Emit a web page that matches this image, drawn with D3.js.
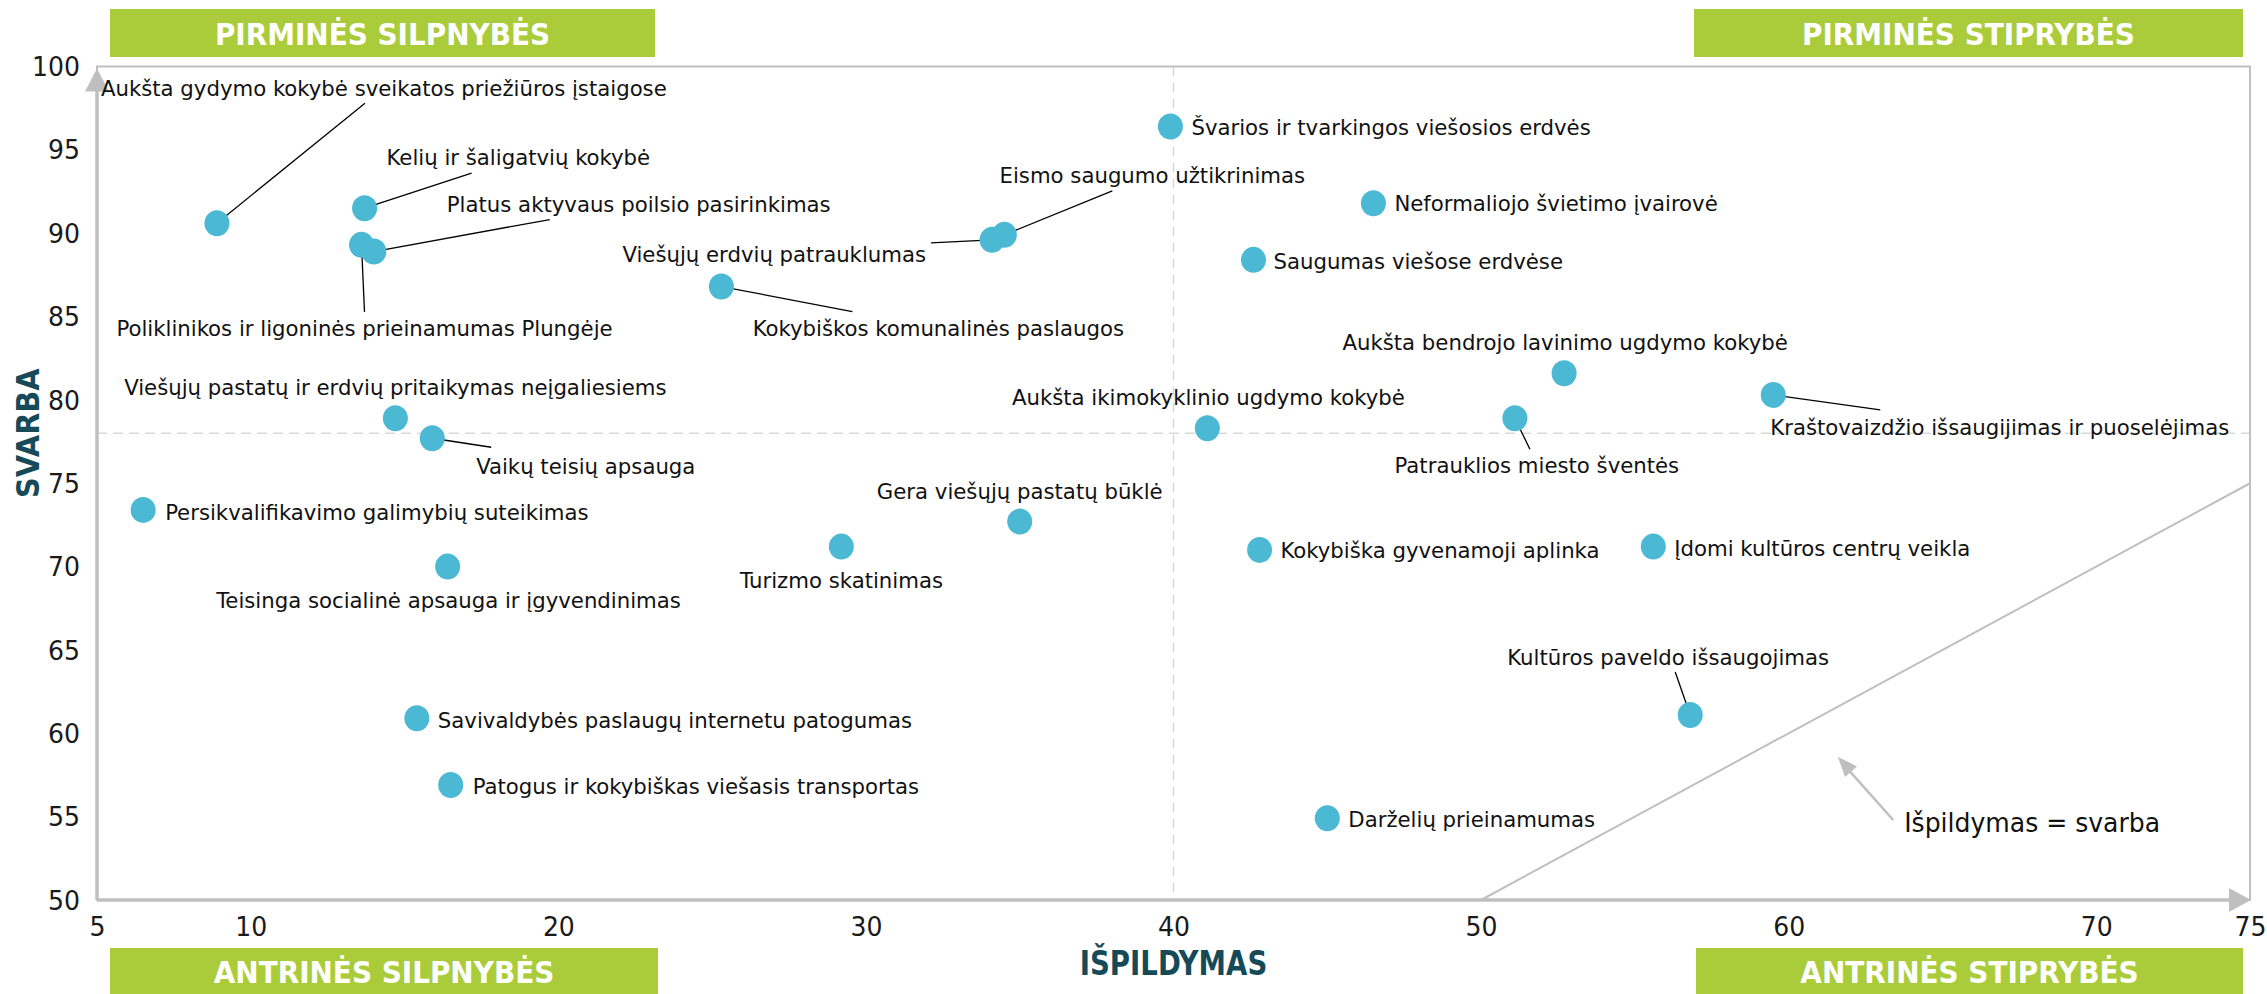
<!DOCTYPE html>
<html>
<head>
<meta charset="utf-8">
<script src="https://cdn.jsdelivr.net/npm/d3@7"></script>
<style>
  body { margin: 0; background: #fff; }
  svg text { font-family: 'Liberation Sans Narrow', 'Arial Narrow', 'DejaVu Sans Condensed', 'Noto Sans', sans-serif; }
</style>
</head>
<body>
<div id="app"></div>
<script>
const WIDTH = 2267;
const HEIGHT = 994;

// chart data
const names = [
  'Aukšta gydymo kokybė sveikatos priežiūros įstaigose',
  'Kelių ir šaligatvių kokybė',
  'Platus aktyvaus poilsio pasirinkimas',
  'Poliklinikos ir ligoninės prieinamumas Plungėje',
  'Viešųjų erdvių patrauklumas',
  'Eismo saugumo užtikrinimas',
  'Kokybiškos komunalinės paslaugos',
  'Švarios ir tvarkingos viešosios erdvės',
  'Neformaliojo švietimo įvairovė',
  'Saugumas viešose erdvėse',
  'Aukšta bendrojo lavinimo ugdymo kokybė',
  'Kraštovaizdžio išsaugijimas ir puoselėjimas',
  'Patrauklios miesto šventės',
  'Aukšta ikimokyklinio ugdymo kokybė',
  'Viešųjų pastatų ir erdvių pritaikymas neįgaliesiems',
  'Vaikų teisių apsauga',
  'Persikvalifikavimo galimybių suteikimas',
  'Teisinga socialinė apsauga ir įgyvendinimas',
  'Turizmo skatinimas',
  'Gera viešųjų pastatų būklė',
  'Kokybiška gyvenamoji aplinka',
  'Įdomi kultūros centrų veikla',
  'Kultūros paveldo išsaugojimas',
  'Savivaldybės paslaugų internetu patogumas',
  'Patogus ir kokybiškas viešasis transportas',
  'Darželių prieinamumas'
];
const ispildymas = [8.9, 13.7, 14.0, 13.6, 34.1, 34.5, 25.3, 39.9, 46.5, 42.6, 52.7, 59.5, 51.1, 41.1,
  14.7, 15.9, 6.5, 16.4, 29.2, 35.0, 42.8, 55.6, 56.8, 15.4, 16.5, 45.0];
const svarba = [90.6, 91.5, 88.9, 89.3, 89.6, 89.9, 86.8, 96.4, 91.8, 88.4, 81.6, 80.3, 78.9, 78.3,
  78.9, 77.7, 73.4, 70.0, 71.2, 72.7, 71.0, 71.2, 61.1, 60.9, 56.9, 54.9];

const xTicks = [5, 10, 20, 30, 40, 50, 60, 70, 75];
const yTicks = [50, 55, 60, 65, 70, 75, 80, 85, 90, 95, 100];
const quadrants = ['PIRMINĖS SILPNYBĖS', 'PIRMINĖS STIPRYBĖS', 'ANTRINĖS SILPNYBĖS', 'ANTRINĖS STIPRYBĖS'];
const averages = [40, 78]; // išpildymo ir svarbos vidurkiai
const equalityNote = 'Išpildymas = svarba';

// label placement (pixels from the dot): anchor, dx, dy, leader end
const labelLayout = [
  ['start', -116, -135, 148, -120],
  ['start', 22, -51, 107, -35],
  ['start', 73, -47, 176, -32],
  ['middle', 3, 83, 3, 67],
  ['end', -66, 14, -61, 3],
  ['middle', 148, -60, 108, -44],
  ['middle', 217, 42, 131, 25],
  ['start', 21, 1],
  ['start', 21, 0],
  ['start', 20, 1],
  ['middle', 1, -31],
  ['start', -3, 32, 107, 15],
  ['middle', 22, 47, 15, 31],
  ['middle', 1, -31],
  ['middle', 0, -31],
  ['start', 44, 28, 59, 9],
  ['start', 22, 2],
  ['middle', 1, 34],
  ['middle', 0, 34],
  ['middle', 0, -30],
  ['start', 21, 0],
  ['start', 21, 2],
  ['middle', -22, -58, -15, -43],
  ['start', 21, 2],
  ['start', 22, 1],
  ['start', 21, 1]
];

const GREEN = '#abcc3a';
const DOT = '#4bb8d4';
const AXIS = '#bfbfbf';
const TEAL = '#174a59';

const svg = d3.select('#app')
  .append('svg')
    .attr('width', WIDTH)
    .attr('height', HEIGHT);

const x = d3.scaleLinear().domain([5, 75]).range([97, 2250]);
const y = d3.scaleLinear().domain([50, 100]).range([900, 66.5]);

const points = names.map((n, i) => ({ name: n, x: ispildymas[i], y: svarba[i], lay: labelLayout[i] }));

// narrow the text a bit so that it has the tall look of the original
const probe = svg.append('text').attr('font-size', 22).text(names[0]);
const SX = Math.max(0.75, Math.min(1.1, 566 / probe.node().getComputedTextLength()));
probe.remove();

// average lines
svg.append('line')
  .attr('x1', x(averages[0])).attr('x2', x(averages[0]))
  .attr('y1', y(100)).attr('y2', y(50))
  .attr('stroke', '#d9d9d9').attr('stroke-width', 1.5).attr('stroke-dasharray', '10,6');
svg.append('line')
  .attr('x1', x(5)).attr('x2', x(75))
  .attr('y1', y(averages[1])).attr('y2', y(averages[1]))
  .attr('stroke', '#d9d9d9').attr('stroke-width', 1.5).attr('stroke-dasharray', '10,6');

// išpildymas = svarba
svg.append('line')
  .attr('x1', x(50)).attr('y1', y(50))
  .attr('x2', x(75)).attr('y2', y(75))
  .attr('stroke', AXIS).attr('stroke-width', 2);

// frame
svg.append('rect')
  .attr('x', x(5)).attr('y', y(100))
  .attr('width', x(75) - x(5)).attr('height', y(50) - y(100))
  .attr('fill', 'none').attr('stroke', AXIS).attr('stroke-width', 2);
svg.append('line')
  .attr('x1', x(5)).attr('x2', x(75) - 10).attr('y1', y(50)).attr('y2', y(50))
  .attr('stroke', AXIS).attr('stroke-width', 3.5);
svg.append('line')
  .attr('x1', x(5)).attr('x2', x(5)).attr('y1', y(50)).attr('y2', y(100) + 10)
  .attr('stroke', AXIS).attr('stroke-width', 3.5);
svg.append('path')
  .attr('d', `M${x(5)},${y(100) + 2} L${x(5) - 12},${y(100) + 25} L${x(5) + 12},${y(100) + 25} Z`)
  .attr('fill', AXIS);
svg.append('path')
  .attr('d', `M${x(75) + 1},${y(50)} L${x(75) - 21},${y(50) - 12} L${x(75) - 21},${y(50) + 12} Z`)
  .attr('fill', AXIS);

// axes
const xAxis = svg.append('g')
  .attr('transform', `translate(0, ${y(50)})`)
  .call(d3.axisBottom(x).tickValues(xTicks).tickSize(0).tickFormat(d => d));
const yAxis = svg.append('g')
  .attr('transform', `translate(${x(5)}, 0)`)
  .call(d3.axisLeft(y).tickValues(yTicks).tickSize(0).tickFormat(d => d));
[xAxis, yAxis].forEach(g => {
  g.select('.domain').remove();
  g.selectAll('text')
    .attr('font-family', null)
    .attr('font-size', 26)
    .attr('fill', '#1a1a1a');
});
xAxis.selectAll('text').attr('y', 27).attr('dy', '0.35em').attr('transform', `scale(${SX},1)`);
yAxis.selectAll('text').attr('x', -17 / SX).attr('dy', '0.35em').attr('transform', `scale(${SX},1)`);

// leader lines
svg.selectAll('.leader')
  .data(points.filter(d => d.lay.length > 3))
  .enter()
    .append('line')
    .attr('class', 'leader')
    .attr('x1', d => x(d.x)).attr('y1', d => y(d.y))
    .attr('x2', d => x(d.x) + d.lay[3]).attr('y2', d => y(d.y) + d.lay[4])
    .attr('stroke', '#000').attr('stroke-width', 1.3);

// dots
svg.selectAll('.dot')
  .data(points)
  .enter()
    .append('ellipse')
    .attr('class', 'dot')
    .attr('cx', d => x(d.x))
    .attr('cy', d => y(d.y))
    .attr('rx', 12.5).attr('ry', 13)
    .attr('fill', DOT);

// labels
svg.selectAll('.lbl')
  .data(points)
  .enter()
    .append('text')
    .attr('class', 'lbl')
    .attr('transform', d => `translate(${x(d.x) + d.lay[1]}, ${y(d.y) + d.lay[2]}) scale(${SX},1)`)
    .attr('text-anchor', d => d.lay[0])
    .attr('dominant-baseline', 'central')
    .attr('font-size', 22)
    .attr('fill', '#111')
    .text(d => d.name);

// annotation
const noteTail = [x(63.4), y(54.8)];
const noteHead = [x(61.6), y(58.6)];
svg.append('line')
  .attr('x1', noteTail[0]).attr('y1', noteTail[1])
  .attr('x2', noteHead[0] + 6).attr('y2', noteHead[1] + 8)
  .attr('stroke', AXIS).attr('stroke-width', 2.5);
const ang = Math.atan2(noteHead[1] - noteTail[1], noteHead[0] - noteTail[0]);
const hl = 20, hw = 8;
const bx = noteHead[0] - hl * Math.cos(ang), by = noteHead[1] - hl * Math.sin(ang);
svg.append('path')
  .attr('d', `M${noteHead[0]},${noteHead[1]} L${bx + hw * Math.sin(ang)},${by - hw * Math.cos(ang)} L${bx - hw * Math.sin(ang)},${by + hw * Math.cos(ang)} Z`)
  .attr('fill', AXIS);
svg.append('text')
  .attr('transform', `translate(${noteTail[0] + 11}, ${noteTail[1] + 3}) scale(${SX},1)`)
  .attr('dominant-baseline', 'central')
  .attr('font-size', 26)
  .attr('fill', '#111')
  .text(equalityNote);

// axis titles
svg.append('text')
  .attr('transform', `translate(${x(averages[0])}, 964) scale(0.93,1)`)
  .attr('text-anchor', 'middle')
  .attr('dominant-baseline', 'central')
  .attr('font-size', 33)
  .attr('font-weight', 'bold')
  .attr('fill', TEAL)
  .text('IŠPILDYMAS');
svg.append('text')
  .attr('transform', `translate(28, ${y(averages[1])}) rotate(-90)`)
  .attr('text-anchor', 'middle')
  .attr('dominant-baseline', 'central')
  .attr('font-size', 32)
  .attr('font-weight', 'bold')
  .attr('fill', TEAL)
  .text('SVARBA');

// quadrant banners
const banners = [
  { x0: 110, x1: 655, y0: 9, y1: 57 },
  { x0: 1694, x1: 2243, y0: 9, y1: 57 },
  { x0: 110, x1: 658, y0: 948, y1: 996 },
  { x0: 1696, x1: 2243, y0: 948, y1: 996 }
];
const bg = svg.selectAll('.banner')
  .data(quadrants)
  .enter()
    .append('g')
    .attr('class', 'banner');
bg.append('rect')
  .attr('x', (d, i) => banners[i].x0)
  .attr('y', (d, i) => banners[i].y0)
  .attr('width', (d, i) => banners[i].x1 - banners[i].x0)
  .attr('height', (d, i) => banners[i].y1 - banners[i].y0)
  .attr('fill', GREEN);
bg.append('text')
  .attr('x', (d, i) => (banners[i].x0 + banners[i].x1) / 2)
  .attr('y', (d, i) => i < 2 ? 34 : 972)
  .attr('text-anchor', 'middle')
  .attr('dominant-baseline', 'central')
  .attr('font-size', 31)
  .attr('font-weight', 'bold')
  .attr('fill', '#fff')
  .text(d => d);
</script>
</body>
</html>
